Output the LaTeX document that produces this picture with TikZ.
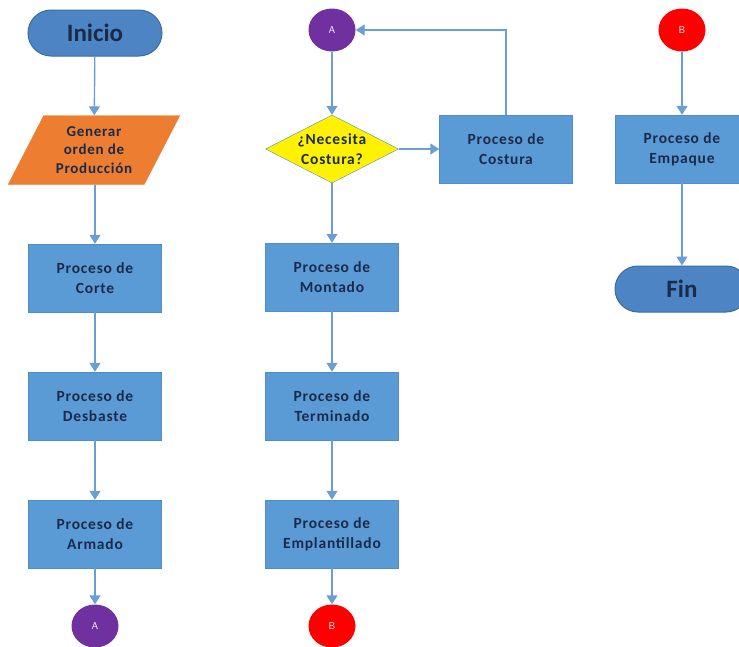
\documentclass[tikz,border=0pt]{standalone}
\usepackage{fontspec}
\setmainfont{Carlito}
\newfontfamily\cajafont[LetterSpace=5]{Carlito}
\usetikzlibrary{shapes.geometric,arrows.meta}
\definecolor{azul}{HTML}{5B9BD5}
\definecolor{azulborde}{HTML}{4F8CC9}
\definecolor{terminal}{HTML}{4D85C4}
\definecolor{terminalborde}{HTML}{3A6B9E}
\definecolor{texto}{HTML}{1B2A48}
\definecolor{flecha}{HTML}{6A9FD4}
\definecolor{naranja}{HTML}{ED7D31}
\definecolor{morado}{HTML}{7030A0}
\tikzset{
  proceso/.style={draw=azulborde, fill=azul, minimum width=133pt, minimum height=68pt,
    align=center, text=texto, font=\cajafont\bfseries\fontsize{15.5}{20}\selectfont},
  terminal/.style={draw=terminalborde, line width=1pt, fill=terminal, minimum width=134pt,
    minimum height=46pt, rounded corners=23pt, text=texto, font=\bfseries\fontsize{25}{28}\selectfont},
  conector/.style={ellipse, fill=#1, minimum width=47pt, minimum height=43pt, inner sep=0pt,
    text=white, font=\sffamily\fontsize{10}{12}\selectfont},
  flujo/.style={draw=flecha, line width=1.4pt, -{Triangle[width=11pt,length=9pt]}}
}
\begin{document}
\begin{tikzpicture}[x=1pt,y=-1pt]
    \useasboundingbox(0,0)rectangle(739,646);
    \node[terminal](inicio)at(95,33){Inicio};
    \node[trapezium, trapezium left angle=60, trapezium right angle=120, trapezium stretches=true,
      minimum width=172pt, minimum height=69pt, fill=naranja, draw=naranja, align=center, inner sep=0pt,
      text=texto, font=\cajafont\bfseries\fontsize{15}{18.5}\selectfont](orden)at(94,150){Generar\\orden de\\Producción};
    \node[proceso](corte)at(95,278){Proceso de\\Corte};
    \node[proceso](desbaste)at(95,406){Proceso de\\Desbaste};
    \node[proceso](armado)at(95,534){Proceso de\\Armado};
    \node[conector=morado](a1)at(95,626){A};
    \node[conector=morado](a2)at(332,30){A};
    \node[diamond, draw=azulborde, fill=yellow, minimum width=133pt, minimum height=68pt, inner sep=0pt,
      label={[align=center, text=texto, font=\cajafont\bfseries\fontsize{15.5}{20}\selectfont]center:¿Necesita\\Costura?}](costura)at(332,149){};
    \node[proceso](pcostura)at(506,149){Proceso de\\Costura};
    \node[proceso](montado)at(332,277){Proceso de\\Montado};
    \node[proceso](terminado)at(332,406){Proceso de\\Terminado};
    \node[proceso](emplantillado)at(332,534){Proceso de\\Emplantillado};
    \node[conector=red](b1)at(332,626){B};
    \node[conector=red](b2)at(682,30){B};
    \node[proceso](empaque)at(682,149){Proceso de\\Empaque};
    \node[terminal](fin)at(682,289){Fin};
    \draw[flujo](inicio)--(orden);
    \draw[flujo](orden.south-|corte)--(corte);
    \draw[flujo](corte)--(desbaste);
    \draw[flujo](desbaste)--(armado);
    \draw[flujo](armado)--(a1);
    \draw[flujo](a2)--(costura);
    \draw[flujo](costura)--(pcostura);
    \draw[flujo](pcostura.north)|-(a2.east);
    \draw[flujo](costura)--(montado);
    \draw[flujo](montado)--(terminado);
    \draw[flujo](terminado)--(emplantillado);
    \draw[flujo](emplantillado)--(b1);
    \draw[flujo](b2)--(empaque);
    \draw[flujo](empaque)--(fin);
\end{tikzpicture}
\end{document}
